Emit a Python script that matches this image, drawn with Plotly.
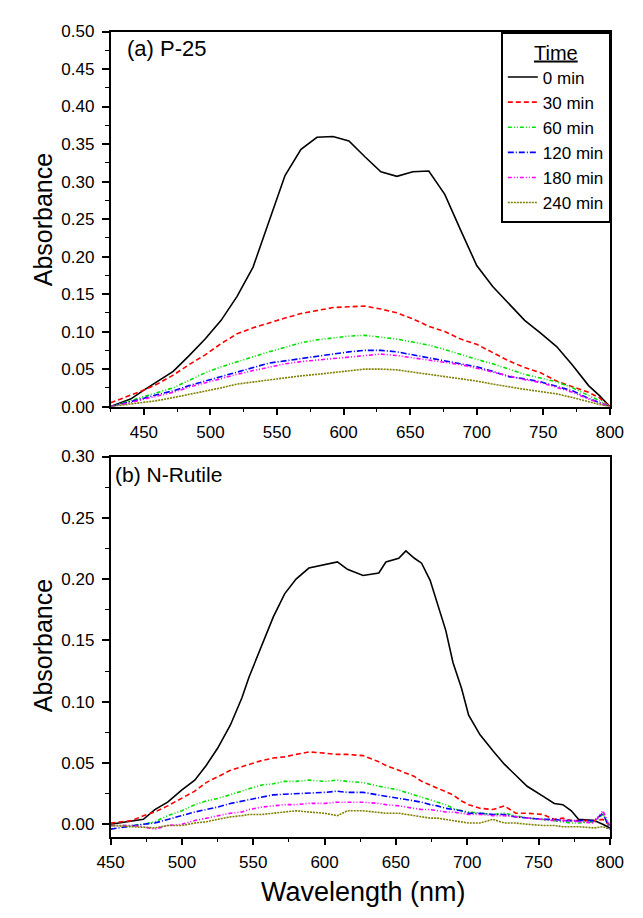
import plotly.graph_objects as go

# ---------------- data: panel (a) P-25 ----------------
wl_a = [425, 440, 450, 460, 472, 484, 496, 508, 520, 532, 544, 556, 568, 580, 592, 604,
        616, 628, 640, 652, 664, 676, 688, 700, 712, 724, 736, 748, 760, 772, 784, 792, 800]
a_0 = [0.0, 0.01, 0.022, 0.033, 0.047, 0.068, 0.09, 0.115, 0.147, 0.186, 0.247, 0.308, 0.343,
       0.359, 0.36, 0.354, 0.333, 0.313, 0.307, 0.313, 0.314, 0.283, 0.235, 0.188, 0.16, 0.137,
       0.115, 0.098, 0.08, 0.055, 0.028, 0.015, 0.0]
a_30 = [0.005, 0.015, 0.022, 0.03, 0.042, 0.056, 0.069, 0.084, 0.097, 0.105, 0.112, 0.118, 0.124,
        0.128, 0.132, 0.133, 0.134, 0.13, 0.125, 0.117, 0.107, 0.1, 0.09, 0.083, 0.072, 0.061,
        0.052, 0.045, 0.034, 0.026, 0.019, 0.012, 0.0]
a_60 = [0.0, 0.008, 0.013, 0.018, 0.025, 0.035, 0.045, 0.053, 0.06, 0.067, 0.073, 0.079, 0.085,
        0.089, 0.092, 0.094, 0.095, 0.093, 0.09, 0.086, 0.082, 0.076, 0.069, 0.063, 0.057, 0.05,
        0.043, 0.038, 0.033, 0.025, 0.015, 0.008, 0.0]
a_120 = [0.0, 0.006, 0.011, 0.016, 0.021, 0.028, 0.034, 0.041, 0.047, 0.053, 0.058, 0.061, 0.064,
         0.068, 0.07, 0.073, 0.075, 0.075, 0.073, 0.069, 0.066, 0.062, 0.058, 0.053, 0.047, 0.04,
         0.037, 0.033, 0.027, 0.021, 0.011, 0.006, 0.0]
a_180 = [0.0, 0.005, 0.01, 0.014, 0.019, 0.026, 0.032, 0.038, 0.043, 0.048, 0.053, 0.057, 0.06,
         0.062, 0.064, 0.067, 0.069, 0.07, 0.068, 0.065, 0.062, 0.06, 0.056, 0.051, 0.046, 0.04,
         0.036, 0.032, 0.026, 0.019, 0.01, 0.005, 0.0]
a_240 = [0.0, 0.003, 0.005, 0.008, 0.012, 0.016, 0.021, 0.025, 0.03, 0.033, 0.036, 0.039, 0.041,
         0.043, 0.045, 0.047, 0.05, 0.05, 0.049, 0.046, 0.043, 0.04, 0.038, 0.034, 0.03, 0.026,
         0.023, 0.02, 0.017, 0.012, 0.006, 0.003, 0.0]

# ---------------- data: panel (b) N-Rutile ----------------
wl_b = [450, 465, 473, 481, 490, 500, 509, 517, 525, 534, 542, 547, 556, 564, 572, 580, 589, 600,
        609, 616, 627, 638, 643, 652, 657, 663, 668, 674, 679, 685, 690, 696, 701, 709, 718, 726,
        734, 742, 753, 761, 767, 773, 778, 789, 795, 800]
b_0 = [0.0, 0.003, 0.004, 0.012, 0.018, 0.028, 0.036, 0.048, 0.062, 0.081, 0.103, 0.12, 0.146,
       0.169, 0.188, 0.2, 0.209, 0.212, 0.214, 0.208, 0.203, 0.205, 0.214, 0.217, 0.223, 0.217,
       0.213, 0.199, 0.18, 0.158, 0.132, 0.111, 0.089, 0.073, 0.06, 0.049, 0.04, 0.031, 0.023,
       0.017, 0.016, 0.011, 0.004, 0.003, 0.0, -0.003]
b_30 = [0.001, 0.003, 0.007, 0.01, 0.015, 0.021, 0.027, 0.034, 0.039, 0.044, 0.047, 0.049, 0.052,
        0.054, 0.055, 0.057, 0.059, 0.058, 0.057, 0.057, 0.056, 0.051, 0.048, 0.044, 0.042, 0.039,
        0.035, 0.032, 0.03, 0.027, 0.024, 0.019, 0.016, 0.013, 0.012, 0.015, 0.009, 0.009, 0.008,
        0.004, 0.005, 0.003, 0.003, 0.003, 0.004, -0.001]
b_60 = [-0.001, -0.001, 0.0, 0.002, 0.007, 0.011, 0.016, 0.019, 0.021, 0.024, 0.027, 0.029, 0.032,
        0.033, 0.035, 0.035, 0.036, 0.035, 0.036, 0.035, 0.034, 0.031, 0.03, 0.028, 0.026, 0.024,
        0.022, 0.02, 0.018, 0.016, 0.013, 0.011, 0.01, 0.009, 0.008, 0.009, 0.007, 0.005, 0.004,
        0.003, 0.002, 0.001, 0.001, 0.002, 0.008, -0.001]
b_120 = [-0.004, -0.001, 0.0, 0.001, 0.004, 0.007, 0.01, 0.012, 0.014, 0.017, 0.019, 0.02, 0.022,
         0.024, 0.0245, 0.025, 0.025, 0.026, 0.027, 0.026, 0.026, 0.024, 0.023, 0.021, 0.02, 0.019,
         0.018, 0.016, 0.015, 0.013, 0.012, 0.011, 0.009, 0.009, 0.008, 0.008, 0.006, 0.005,
         0.004, 0.004, 0.003, 0.003, 0.003, 0.003, 0.009, -0.004]
b_180 = [-0.001, -0.001, -0.002, -0.004, -0.001, 0.0, 0.003, 0.005, 0.007, 0.009, 0.01, 0.012,
         0.014, 0.015, 0.016, 0.016, 0.017, 0.017, 0.018, 0.018, 0.018, 0.017, 0.016, 0.015,
         0.014, 0.013, 0.012, 0.012, 0.011, 0.01, 0.01, 0.009, 0.008, 0.008, 0.007, 0.007, 0.006,
         0.005, 0.004, 0.003, 0.003, 0.003, 0.002, 0.001, 0.011, -0.001]
b_240 = [-0.001, -0.002, -0.003, -0.003, -0.001, -0.001, 0.001, 0.002, 0.004, 0.006, 0.007, 0.008,
         0.008, 0.009, 0.01, 0.011, 0.01, 0.009, 0.007, 0.011, 0.011, 0.01, 0.009, 0.009, 0.008,
         0.007, 0.006, 0.005, 0.005, 0.004, 0.003, 0.002, 0.001, 0.001, 0.004, 0.001, 0.001, 0.0,
         -0.001, -0.001, -0.002, -0.002, -0.002, -0.003, -0.002, -0.004]

names = ["0 min", "30 min", "60 min", "120 min", "180 min", "240 min"]
colors = ["#000000", "#FF0000", "#00E000", "#0000FF", "#FF00FF", "#808000"]
dashes = ["solid", "5px,3px", "4px,2px,1px,2px,1px,2px", "6px,2px,1px,2px",
          "4px,2px,1px,2px,1px,2px", "2px,1px"]

series_a = [a_0, a_30, a_60, a_120, a_180, a_240]
series_b = [b_0, b_30, b_60, b_120, b_180, b_240]

FONT = "Arial, Liberation Sans, sans-serif"
W, H = 643, 918

fig = go.Figure()
for i, ys in enumerate(series_a):
    fig.add_trace(go.Scatter(x=wl_a, y=ys, mode="lines", name=names[i],
                             line=dict(color=colors[i], width=1.6, dash=dashes[i]),
                             xaxis="x", yaxis="y", showlegend=True))
for i, ys in enumerate(series_b):
    fig.add_trace(go.Scatter(x=wl_b, y=ys, mode="lines", name=names[i],
                             line=dict(color=colors[i], width=1.6, dash=dashes[i]),
                             xaxis="x2", yaxis="y2", showlegend=False))

def px_x(p):
    return p / W

def px_y(p):
    return 1 - p / H

L, R = 101, 623
axis_common = dict(showline=True, linecolor="black", linewidth=1.5, mirror=True,
                   ticks="outside", ticklen=7, tickwidth=1.5, tickcolor="black",
                   showgrid=False, zeroline=False,
                   tickfont=dict(family=FONT, size=17, color="black"))
minor_common = dict(ticks="outside", ticklen=4, tickwidth=1.2, tickcolor="black")

fig.update_layout(
    width=W, height=H, autosize=False,
    margin=dict(l=0, r=0, t=0, b=0),
    paper_bgcolor="white", plot_bgcolor="white",
    font=dict(family=FONT, color="black"),
    xaxis=dict(domain=[px_x(L), px_x(R)], anchor="y", range=[425, 800],
               tick0=450, dtick=50, ticklabelstandoff=2,
               minor=dict(dtick=25, tick0=425, **minor_common),
               **axis_common),
    yaxis=dict(domain=[px_y(406), px_y(23)], anchor="x", range=[0, 0.5],
               tick0=0, dtick=0.05, tickformat=".2f", ticklabelstandoff=4,
               minor=dict(dtick=0.025, tick0=0, **minor_common),
               **axis_common),
    xaxis2=dict(domain=[px_x(L), px_x(R)], anchor="y2", range=[450, 800],
                tick0=450, dtick=50, ticklabelstandoff=2,
                minor=dict(dtick=25, tick0=450, **minor_common),
                **axis_common),
    yaxis2=dict(domain=[px_y(845), px_y(457)], anchor="x2", range=[-0.01, 0.30],
                tick0=0, dtick=0.05, tickformat=".2f", ticklabelstandoff=4,
                minor=dict(dtick=0.025, tick0=0, **minor_common),
                **axis_common),
    legend=dict(x=px_x(R + 1), y=px_y(23), xanchor="right", yanchor="top",
                bgcolor="white", bordercolor="black", borderwidth=2,
                font=dict(family=FONT, size=17, color="black"),
                title=dict(text="<u>Time</u>", side="top center",
                           font=dict(family=FONT, size=20, color="black")),
                tracegroupgap=0, itemwidth=30, entrywidth=128, entrywidthmode="pixels"),
    annotations=[
        dict(text="(a) P-25", x=px_x(116), y=px_y(40), xref="paper", yref="paper",
             xanchor="left", yanchor="middle", showarrow=False,
             font=dict(family=FONT, size=22, color="black")),
        dict(text="(b) N-Rutile", x=px_x(103), y=px_y(475), xref="paper", yref="paper",
             xanchor="left", yanchor="middle", showarrow=False,
             font=dict(family=FONT, size=21, color="black")),
        dict(text="Absorbance", x=px_x(30), y=px_y(215), xref="paper", yref="paper",
             xanchor="center", yanchor="middle", showarrow=False, textangle=-90,
             font=dict(family=FONT, size=25, color="black")),
        dict(text="Absorbance", x=px_x(30), y=px_y(650), xref="paper", yref="paper",
             xanchor="center", yanchor="middle", showarrow=False, textangle=-90,
             font=dict(family=FONT, size=25, color="black")),
        dict(text="Wavelength (nm)", x=px_x(365), y=px_y(902), xref="paper", yref="paper",
             xanchor="center", yanchor="middle", showarrow=False,
             font=dict(family=FONT, size=27, color="black")),
    ],
)

fig.write_html("out.html", config={"displayModeBar": False},
               post_script="document.body.style.margin='0';document.body.style.padding='0';")
